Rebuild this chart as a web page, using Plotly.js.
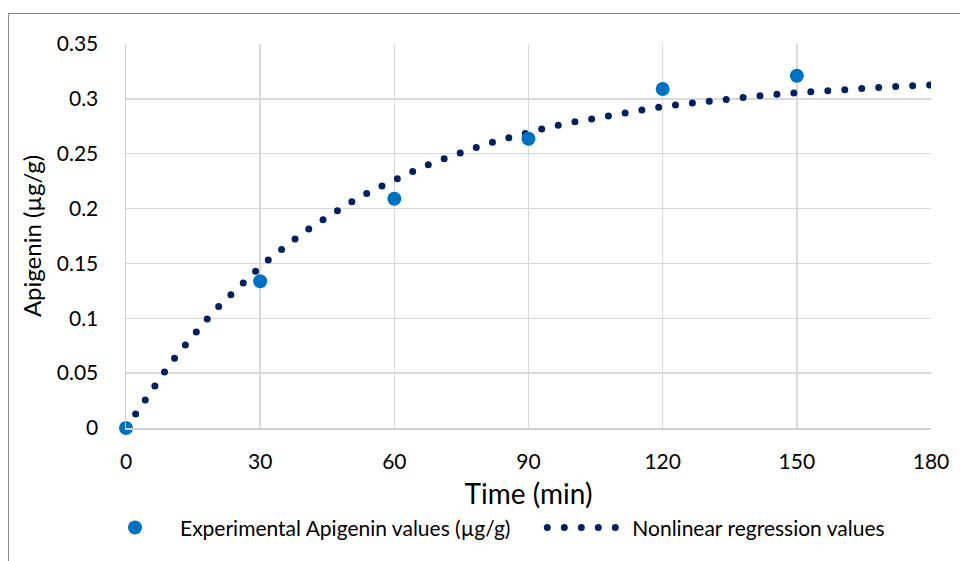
<!DOCTYPE html>
<html>
<head>
<meta charset="utf-8">
<script src="https://cdn.plot.ly/plotly-3.0.1.min.js"></script>
<style>
  html, body { margin: 0; padding: 0; background: #fff; }
  #wrap { position: relative; width: 960px; height: 561px; overflow: hidden; }
  #frame { position: absolute; left: 8px; top: 13px; width: 1000px; height: 600px;
           border-left: 1.5px solid #8c8c8c; border-top: 1.5px solid #8c8c8c; }
  #chart { position: absolute; left: 0; top: 0; width: 960px; height: 561px; }
  .js-line { stroke-linecap: round !important; }
</style>
</head>
<body>
<div id="wrap">
  <div id="frame"></div>
  <div id="chart"></div>
</div>
<script>
// Experimental values
const expTime = [0, 30, 60, 90, 120, 150];
const expApigenin = [0, 0.1337, 0.209, 0.2637, 0.309, 0.3211];

// Nonlinear regression values
const fitTime = [0, 2.2, 4.3, 6.6, 8.8, 11.1, 13.5, 15.9, 18.5, 21.2, 23.9, 26.6, 29.6, 32.4, 35.4,
  38.5, 41.7, 44.9, 48.1, 51.5, 54.9, 58.4, 61.8, 65.4, 68.9, 72.5, 76.3, 79.9, 83.6, 87.3,
  91.0, 94.8, 98.5, 102.3, 106.1, 109.9, 113.7, 117.6, 121.4, 125.2, 132.8, 140.6, 148.2,
  155.9, 163.7, 171.3, 179.0, 180];
const fitApigenin = [0, 0.0137, 0.0267, 0.0398, 0.0522, 0.065, 0.0772, 0.0893, 0.1009, 0.1128,
  0.1237, 0.1346, 0.1452, 0.1552, 0.1653, 0.1744, 0.1838, 0.1923, 0.2008, 0.2087, 0.216,
  0.2233, 0.23, 0.2363, 0.2422, 0.2477, 0.2531, 0.258, 0.2625, 0.2668, 0.271, 0.2744,
  0.2777, 0.2807, 0.2837, 0.2865, 0.2892, 0.2914, 0.2938, 0.2956, 0.2996, 0.3023, 0.3051,
  0.3074, 0.3093, 0.3111, 0.3124, 0.3126];

const xTicks = [0, 30, 60, 90, 120, 150, 180];
const yTicks = [0, 0.05, 0.1, 0.15, 0.2, 0.25, 0.3, 0.35];
const yTickLabels = ['0', '0.05', '0.1', '0.15', '0.2', '0.25', '0.3', '0.35'];

const FONT = 'Lato, "Open Sans", sans-serif';
const PAD = '\u00A0\u00A0\u00A0\u00A0\u00A0';

const traces = [
  {
    x: fitTime, y: fitApigenin, type: 'scatter', mode: 'lines',
    name: 'Nonlinear regression values', legendrank: 2,
    line: { color: '#002060', width: 7, dash: '0px,17px' },
    cliponaxis: false
  },
  {
    x: expTime, y: expApigenin, type: 'scatter', mode: 'markers',
    name: 'Experimental Apigenin values (µg/g)' + PAD, legendrank: 1,
    marker: { color: '#0070C0', size: 14 },
    cliponaxis: false
  }
];

const layout = {
  width: 960, height: 561,
  margin: { l: 126, r: 29, t: 44, b: 133 },
  paper_bgcolor: 'rgba(0,0,0,0)',
  plot_bgcolor: 'rgba(0,0,0,0)',
  font: { family: FONT, color: '#000' },
  showlegend: true,
  legend: {
    orientation: 'h', x: -0.0447, xanchor: 'left', y: -0.26, yanchor: 'middle',
    font: { family: FONT, size: 21, color: '#000' },
    itemwidth: 80,
    bgcolor: 'rgba(0,0,0,0)'
  },
  xaxis: {
    range: [0, 180], tickvals: xTicks, ticktext: xTicks.map(String),
    showgrid: true, gridcolor: '#d9d9d9', gridwidth: 1.5,
    showline: true, linecolor: '#d0d0d0', linewidth: 1.5, mirror: false,
    zeroline: false, ticks: '', ticklabelstandoff: 14,
    tickfont: { family: FONT, size: 21, color: '#000' },
    title: { text: 'Time (min)', font: { family: FONT, size: 28, color: '#000' }, standoff: 12 }
  },
  yaxis: {
    range: [0, 0.35], tickvals: yTicks, ticktext: yTickLabels,
    showgrid: true, gridcolor: '#d9d9d9', gridwidth: 1.5,
    showline: true, linecolor: '#d0d0d0', linewidth: 1.5,
    zeroline: false, ticks: '', ticklabelstandoff: 22,
    tickfont: { family: FONT, size: 21, color: '#000' },
    title: { text: 'Apigenin (µg/g)', font: { family: FONT, size: 24, color: '#000' }, standoff: 8 }
  }
};

Plotly.newPlot('chart', traces, layout, { displayModeBar: false, staticPlot: true });
</script>
</body>
</html>
